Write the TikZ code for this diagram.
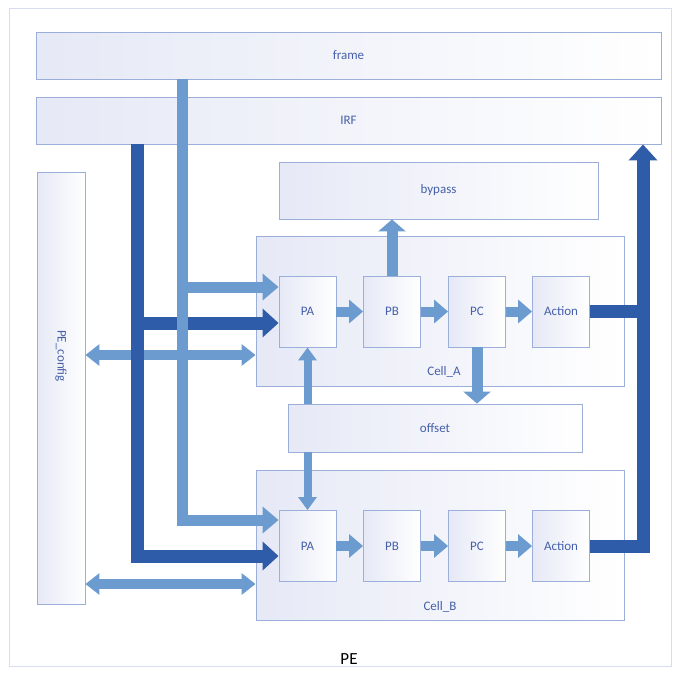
\documentclass[tikz,border=0pt]{standalone}
\usepackage{fontspec}
\setmainfont{Carlito}
\usetikzlibrary{arrows.meta}
\definecolor{darkb}{HTML}{2F5CA9}
\definecolor{lightb}{HTML}{6C9BD0}
\definecolor{edgeb}{HTML}{9CAEDA}
\definecolor{txtb}{HTML}{4660A8}
\definecolor{fillb}{HTML}{E6E9F6}
\definecolor{outerb}{HTML}{D5DEEF}
\begin{document}
\begin{tikzpicture}[x=1pt,y=-1pt,
  box/.style={draw=edgeb, line width=0.9pt, left color=fillb, right color=white, inner sep=0pt, text=txtb, font=\fontsize{13}{15}\selectfont},
  lbl/.style={text=txtb, font=\fontsize{13}{15}\selectfont, inner sep=0pt},
  pbox/.style={box, minimum width=57pt, minimum height=71pt},
  lightbus/.style={draw=lightb, line width=11pt, -{Triangle[length=16pt,width=26pt]}},
  darkbus/.style={draw=darkb, line width=13pt, -{Triangle[length=16pt,width=28pt]}},
  darkline/.style={draw=darkb, line width=13pt},
  pipe/.style={draw=lightb, line width=10pt, -{Triangle[length=14pt,width=23pt]}},
  vpipe/.style={draw=lightb, line width=11pt, -{Triangle[length=12pt,width=27pt]}},
  thinpipe/.style={draw=lightb, line width=8pt, -{Triangle[length=13pt,width=18pt]}},
  dbl/.style={draw=lightb, line width=10pt, {Triangle[length=14pt,width=21pt]}-{Triangle[length=14pt,width=21pt]}}
]
\useasboundingbox (0,0) rectangle (676,672);
\node[draw=outerb, line width=1pt, minimum width=662pt, minimum height=658pt, inner sep=0pt] (pe) at (340,337) {};

% boxes
\node[box, minimum width=625pt, minimum height=47pt] (frame) at (348.5,55.5) {frame};
\node[box, minimum width=625pt, minimum height=47pt] (irf) at (348.5,120.5) {IRF};
\node[box, minimum width=48pt, minimum height=432pt] (cfg) at (61,388) {};
\node[lbl, rotate=-90] (cfgtxt) at (61,356) {PE\_config};
\node[box, minimum width=319pt, minimum height=57pt] (bypass) at (438.5,190.5) {bypass};
\node[box, minimum width=368pt, minimum height=150pt] (cellA) at (440,311) {};
\node[lbl] (cellAtxt) at (444,372) {Cell\_A};
\node[pbox] (paA) at (307.5,311.5) {PA};
\node[pbox] (pbA) at (392,311.5) {PB};
\node[pbox] (pcA) at (477,311.5) {PC};
\node[pbox] (acA) at (561,311.5) {Action};
\node[box, minimum width=294pt, minimum height=48pt] (offset) at (435,428) {offset};
\node[box, minimum width=368pt, minimum height=150pt] (cellB) at (440,545.5) {};
\node[lbl] (cellBtxt) at (440,607) {Cell\_B};
\node[pbox] (paB) at (307.5,546) {PA};
\node[pbox] (pbB) at (392,546) {PB};
\node[pbox] (pcB) at (477,546) {PC};
\node[pbox] (acB) at (561,546) {Action};
\node[inner sep=0pt, font=\fontsize{17}{19}\selectfont] (petxt) at (349,659) {PE};

\coordinate (dbx) at (137,0);
\coordinate (lbx) at (182,0);
\coordinate (rbx) at (643,0);

% config double arrows
\draw[dbl] (cfg.east |- 0,355) -- (cellA.west |- 0,355);
\draw[dbl] (cfg.east |- 0,584) -- (cellB.west |- 0,584);

% dark IRF bus
\draw[darkbus] (irf.south -| dbx) |- ([yshift=-10pt]paB.west);
\draw[darkbus] ([yshift=-11.5pt]paA.west -| dbx) -- ([yshift=-11.5pt]paA.west);

% light frame bus
\draw[lightbus] (frame.south -| lbx) |- ([yshift=26pt]paB.west);
\draw[lightbus] ([yshift=24.5pt]paA.west -| lbx) -- ([yshift=24.5pt]paA.west);

% pipelines
\draw[pipe] (paA.east) -- (pbA.west);
\draw[pipe] (pbA.east) -- (pcA.west);
\draw[pipe] (pcA.east) -- (acA.west);
\draw[pipe] (paB.east) -- (pbB.west);
\draw[pipe] (pbB.east) -- (pcB.west);
\draw[pipe] (pcB.east) -- (acB.west);

\draw[vpipe] (pbA.north) -- (bypass.south -| pbA.north);
\draw[vpipe] (pcA.south) -- (offset.north -| pcA.south);
\draw[thinpipe] (offset.north -| paA.south) -- (paA.south);
\draw[thinpipe] (offset.south -| paB.north) -- (paB.north);

% action outputs to IRF
\draw[darkline] (acA.east) -- (acA.east -| rbx);
\draw[darkbus] (acB.east) -| (irf.south -| rbx);
\end{tikzpicture}
\end{document}
